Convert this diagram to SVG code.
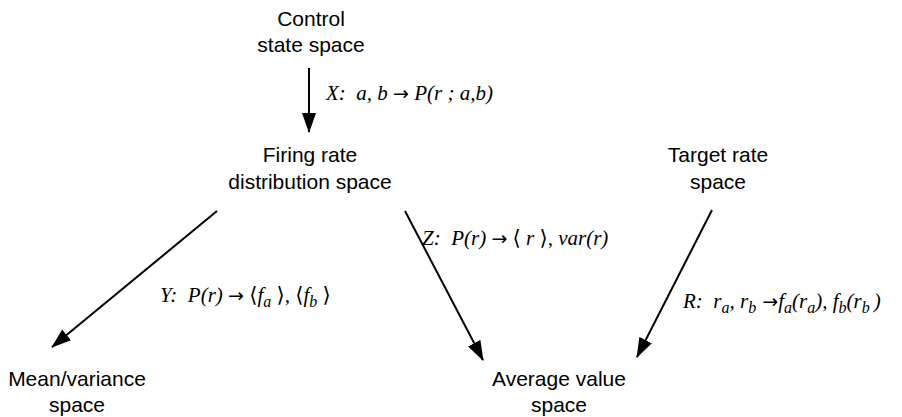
<svg xmlns="http://www.w3.org/2000/svg" width="902" height="417" viewBox="0 0 902 417">
<defs>
<marker id="ah" viewBox="0 0 20 14" refX="19" refY="7" markerWidth="20" markerHeight="14" markerUnits="userSpaceOnUse" orient="auto">
<path d="M0,0 L20,7 L0,14 z" fill="#000"/>
</marker>
<style>
.node{font-family:"Liberation Sans",Arial,sans-serif;font-size:21px;fill:#000;text-anchor:middle}
.lbl{font-family:"Liberation Serif","DejaVu Serif",serif;font-size:21px;font-style:italic;fill:#000}
.up{font-style:normal}
.ar{font-family:"DejaVu Sans",sans-serif;font-style:normal;font-size:19px}
.sub{font-size:16px}
.conn line{stroke:#000;stroke-width:2;marker-end:url(#ah)}
</style>
</defs>
<rect width="902" height="417" fill="#fff"/>
<g id="control"><text class="node" x="311" y="26">Control</text><text class="node" x="311" y="52">state space</text></g>
<g id="firing"><text class="node" x="310" y="162">Firing rate</text><text class="node" x="310" y="189">distribution space</text></g>
<g id="target"><text class="node" x="718" y="162">Target rate</text><text class="node" x="718" y="189">space</text></g>
<g id="meanvar"><text class="node" x="77" y="386">Mean/variance</text><text class="node" x="77" y="412">space</text></g>
<g id="average"><text class="node" x="559" y="386">Average value</text><text class="node" x="559" y="412">space</text></g>
<g id="connectors" class="conn">
<line x1="309" y1="68" x2="309" y2="132"/>
<line x1="217" y1="211" x2="52" y2="347"/>
<line x1="405" y1="211" x2="483" y2="360"/>
<line x1="712" y1="210" x2="637" y2="357"/>
</g>
<g id="labels">
<text class="lbl" x="326" y="100" xml:space="preserve">X:  a, b <tspan class="ar">→</tspan> P(r ; a,b)</text>
<text class="lbl" x="422" y="245" xml:space="preserve">Z:  P(r) <tspan class="ar">→</tspan><tspan class="up"> ⟨</tspan> r <tspan class="up">⟩</tspan>, var(r)</text>
<text class="lbl" x="160" y="302" xml:space="preserve">Y:  P(r) <tspan class="ar">→</tspan><tspan class="up"> ⟨</tspan>f<tspan class="sub" dy="5">a</tspan><tspan class="up" dy="-5"> ⟩</tspan>, <tspan class="up">⟨</tspan>f<tspan class="sub" dy="5">b</tspan><tspan class="up" dy="-5"> ⟩</tspan></text>
<text class="lbl" x="683" y="308" xml:space="preserve">R:  r<tspan class="sub" dy="5">a</tspan><tspan dy="-5">, r</tspan><tspan class="sub" dy="5">b</tspan><tspan class="ar" dy="-5"> →</tspan>f<tspan class="sub" dy="5">a</tspan><tspan dy="-5">(r</tspan><tspan class="sub" dy="5">a</tspan><tspan dy="-5">), f</tspan><tspan class="sub" dy="5">b</tspan><tspan dy="-5">(r</tspan><tspan class="sub" dy="5">b </tspan><tspan dy="-5">)</tspan></text>
</g>
</svg>
